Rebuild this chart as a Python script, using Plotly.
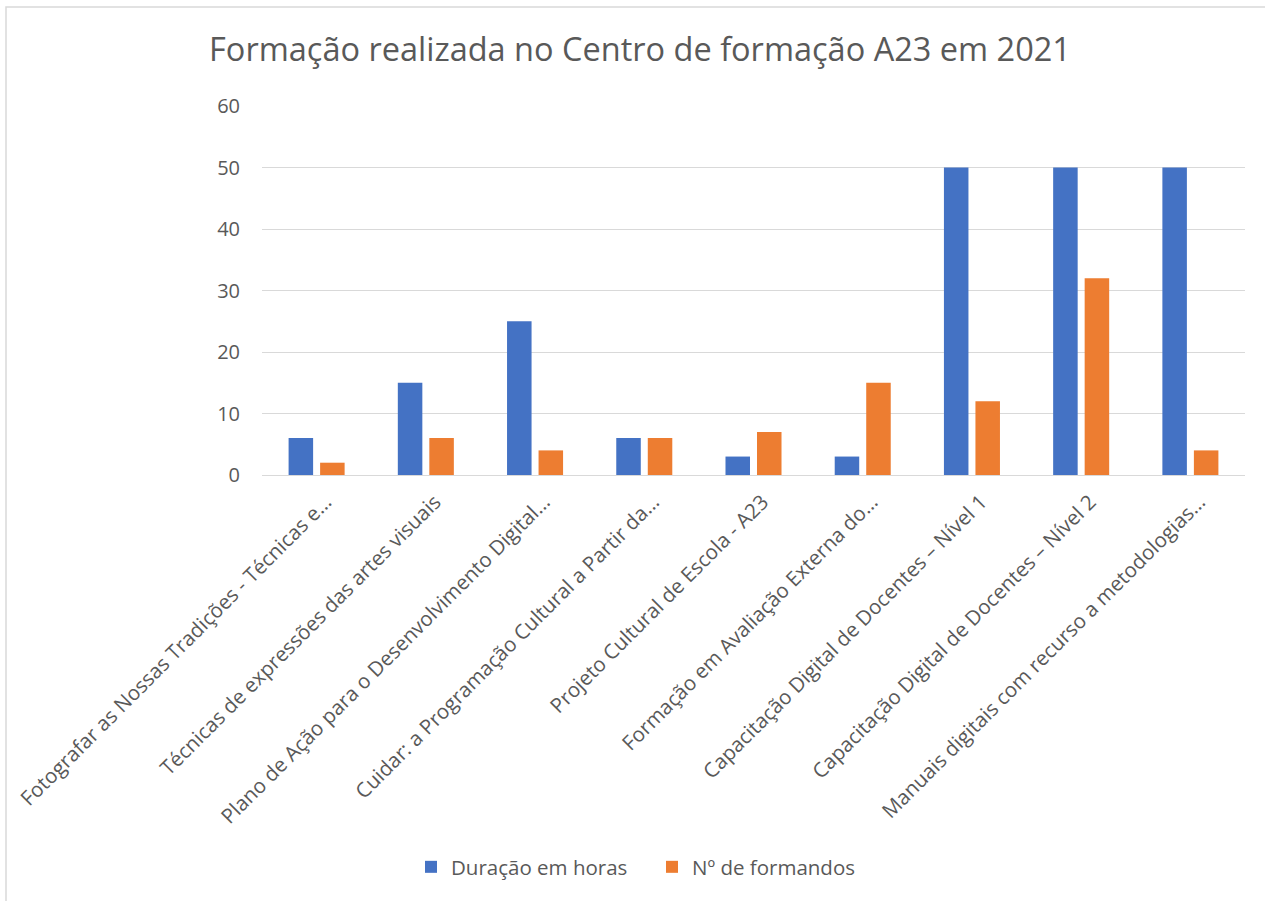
import plotly.graph_objects as go

categories = [
    "Fotografar as Nossas Tradições - Técnicas e…",
    "Técnicas de expressões das artes visuais",
    "Plano de Ação para o Desenvolvimento Digital…",
    "Cuidar: a Programação Cultural a Partir da…",
    "Projeto Cultural de Escola - A23",
    "Formação em Avaliação Externa do…",
    "Capacitação Digital de Docentes – Nível 1",
    "Capacitação Digital de Docentes – Nível 2",
    "Manuais digitais com recurso a metodologias…",
]
duracao_horas = [6, 15, 25, 6, 3, 3, 50, 50, 50]
n_formandos = [2, 6, 4, 6, 7, 15, 12, 32, 4]
series_names = ["Duração em horas", "Nº de formandos"]
title_text = "Formação realizada no Centro de formação A23 em 2021"
y_ticks = [0, 10, 20, 30, 40, 50, 60]

FONT = "Open Sans"
TXT = "#595959"

fig = go.Figure()
fig.add_trace(go.Bar(x=categories, y=duracao_horas, name=series_names[0],
                     marker=dict(color="#4472C4", line=dict(width=0))))
fig.add_trace(go.Bar(x=categories, y=n_formandos, name=series_names[1],
                     marker=dict(color="#ED7D31", line=dict(width=0))))

W, H = 1265, 901
L, R, T, B = 262, 20, 106, 426
pw = W - L - R
ph = H - T - B

def px(x):
    return (x - L) / pw

def py(y):
    return (H - B - y) / ph

# light chart-area border (right/bottom edges fall outside the picture)
shapes = [dict(type="rect", xref="paper", yref="paper",
               x0=px(6), x1=px(W + 20), y0=py(H + 20), y1=py(7),
               line=dict(color="#D9D9D9", width=1.5), fillcolor="rgba(0,0,0,0)")]

fig.update_layout(
    width=W, height=H,
    margin=dict(l=L, r=R, t=T, b=B),
    paper_bgcolor="white", plot_bgcolor="white",
    barmode="group", bargap=0.423, bargroupgap=0.222,
    font=dict(family=FONT, color=TXT, size=19),
    title=dict(text=title_text, x=640 / W, xref="container", xanchor="center",
               y=1 - 50 / H, yref="container", yanchor="middle",
               font=dict(family=FONT, size=32.5, color=TXT)),
    legend=dict(orientation="h", xref="container", x=652 / W, xanchor="center",
                yref="container", y=1 - 867 / H, yanchor="middle",
                bgcolor="rgba(0,0,0,0)",
                font=dict(family=FONT, size=20.5, color=TXT),
                itemsizing="constant", tracegroupgap=0, itemwidth=30,
                entrywidth=196),
    xaxis=dict(tickangle=-45, showgrid=False, showline=False, ticks="",
               automargin=False, ticklabelshift=9, ticklabelstandoff=10,
               tickfont=dict(family=FONT, size=20.5, color=TXT)),
    yaxis=dict(range=[0, 60], tickvals=y_ticks, showgrid=True, gridcolor="#D9D9D9",
               gridwidth=1.3, zeroline=True, zerolinecolor="#D9D9D9", zerolinewidth=1.3,
               showline=False, ticks="", automargin=False, ticklabelstandoff=21,
               tickfont=dict(family=FONT, size=20, color=TXT)),
    shapes=shapes,
)

fig.write_html("out.html", config={"displayModeBar": False},
               post_script="document.body.style.margin='0';document.body.style.overflow='hidden';")
